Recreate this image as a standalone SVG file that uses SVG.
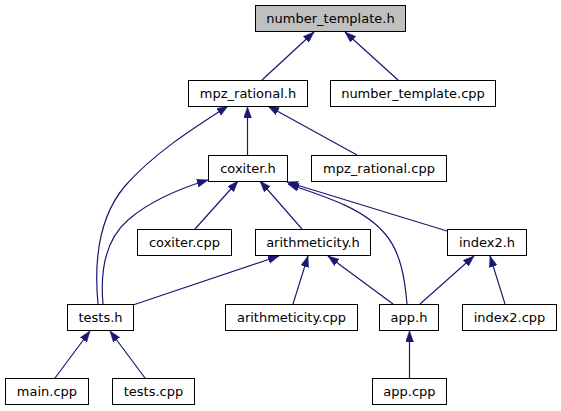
<svg xmlns="http://www.w3.org/2000/svg" width="561" height="411" viewBox="0 0 561 411">
<style>
.node rect{fill:#ffffff;stroke:#000000;stroke-width:1}
.node.root rect{fill:#bfbfbf}
.node text{font-family:"DejaVu Sans",sans-serif;font-size:13px;text-anchor:middle;fill:#000000}
.edges path{fill:none;stroke:#191970;stroke-width:1.2;marker-end:url(#ah)}
</style>
<defs>
<marker id="ah" markerUnits="userSpaceOnUse" markerWidth="12" markerHeight="9" refX="11" refY="4" orient="auto">
<path d="M0,0 L11,4 L0,8 z" fill="#191970" stroke="#191970" stroke-width="0.5"/>
</marker>
</defs>
<rect width="561" height="411" fill="#ffffff"/>
<g id="edges" class="edges">
<path d="M262,80 L314,32"/>
<path d="M398,80 L345,32"/>
<path d="M247.5,155 L247.5,107"/>
<path d="M357,155 L268,106"/>
<path d="M98,304 C94,262 98,218 125,186 C153,154 192,129 228,106"/>
<path d="M103,304 C100,270 105,240 128,220 C150,201 178,189 208,180"/>
<path d="M195,229 L238,181"/>
<path d="M302,229 L260,181"/>
<path d="M447,231 L287,182"/>
<path d="M407,304 C405,280 401,253 386,235 C366,210 330,198 288,184"/>
<path d="M133,305 L279,256"/>
<path d="M293,304 L308,256"/>
<path d="M393,304 L328,256"/>
<path d="M420,304 L474,256"/>
<path d="M505,304 L490,256"/>
<path d="M55,378 L90,331"/>
<path d="M145,378 L110,331"/>
<path d="M409.5,378 L409.5,331"/>
</g>
<g id="number_template_h" class="node root"><rect x="255.5" y="5.5" width="150" height="26"/><text x="330.5" y="23">number_template.h</text></g>
<g id="mpz_rational_h" class="node"><rect x="188.5" y="80.5" width="119" height="26"/><text x="248" y="98">mpz_rational.h</text></g>
<g id="number_template_cpp" class="node"><rect x="330.5" y="80.5" width="165" height="26"/><text x="413" y="98">number_template.cpp</text></g>
<g id="coxiter_h" class="node"><rect x="208.5" y="155.5" width="79" height="26"/><text x="248" y="173">coxiter.h</text></g>
<g id="mpz_rational_cpp" class="node"><rect x="311.5" y="155.5" width="135" height="26"/><text x="379" y="173">mpz_rational.cpp</text></g>
<g id="coxiter_cpp" class="node"><rect x="137.5" y="229.5" width="94" height="26"/><text x="184.5" y="247">coxiter.cpp</text></g>
<g id="arithmeticity_h" class="node"><rect x="255.5" y="229.5" width="115" height="26"/><text x="313" y="247">arithmeticity.h</text></g>
<g id="index2_h" class="node"><rect x="447.5" y="229.5" width="79" height="26"/><text x="487" y="247">index2.h</text></g>
<g id="tests_h" class="node"><rect x="67.5" y="304.5" width="66" height="26"/><text x="100.5" y="322">tests.h</text></g>
<g id="arithmeticity_cpp" class="node"><rect x="225.5" y="304.5" width="132" height="26"/><text x="291.5" y="322">arithmeticity.cpp</text></g>
<g id="app_h" class="node"><rect x="379.5" y="304.5" width="59" height="26"/><text x="409" y="322">app.h</text></g>
<g id="index2_cpp" class="node"><rect x="462.5" y="304.5" width="94" height="26"/><text x="509.5" y="322">index2.cpp</text></g>
<g id="main_cpp" class="node"><rect x="5.5" y="378.5" width="83" height="26"/><text x="47" y="396">main.cpp</text></g>
<g id="tests_cpp" class="node"><rect x="112.5" y="378.5" width="82" height="26"/><text x="153.5" y="396">tests.cpp</text></g>
<g id="app_cpp" class="node"><rect x="372.5" y="378.5" width="74" height="26"/><text x="409.5" y="396">app.cpp</text></g>
</svg>
